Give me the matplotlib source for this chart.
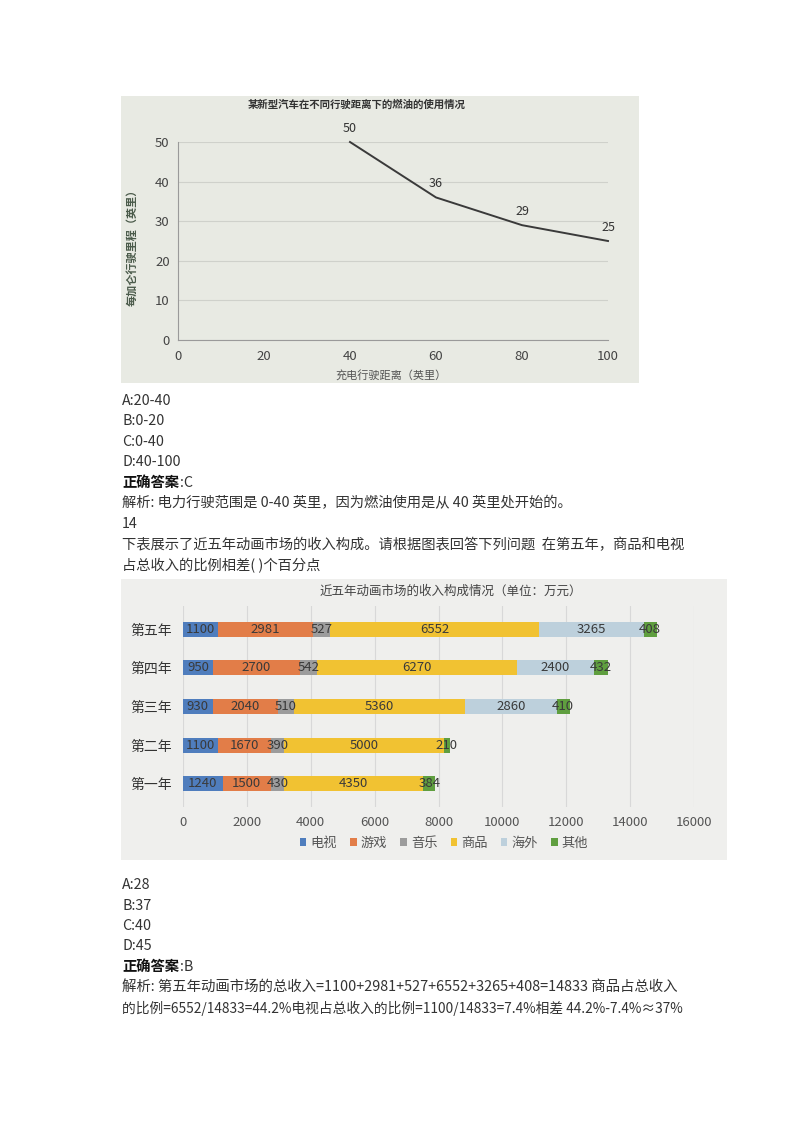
import matplotlib
matplotlib.use('Agg')
import matplotlib.pyplot as plt
from matplotlib.patches import Rectangle

plt.rcParams['font.family'] = ['Noto Sans CJK SC', 'DejaVu Sans']

W, H = 800, 1132

# 图一：燃油使用情况
dist = [40, 60, 80, 100]
mpg = [50, 36, 29, 25]

# 图二：收入构成（万元）
years = ['第一年', '第二年', '第三年', '第四年', '第五年']
series_names = ['电视', '游戏', '音乐', '商品', '海外', '其他']
tv = [1240, 1100, 930, 950, 1100]
game = [1500, 1670, 2040, 2700, 2981]
music = [430, 390, 510, 542, 527]
goods = [4350, 5000, 5360, 6270, 6552]
overseas = [0, 0, 2860, 2400, 3265]
other = [384, 210, 410, 432, 408]
colors = ['#4f7dbd', '#e27d48', '#9c9c9c', '#f1c232', '#bdd0dc', '#5f9e3f']

text_color = '#333333'


def fx(px):
    return px / W


def fy(py):
    return 1 - py / H


def box(x0, y0, x1, y1):
    return [x0 / W, 1 - y1 / H, (x1 - x0) / W, (y1 - y0) / H]


fig = plt.figure(figsize=(8, 11.32), dpi=100)
fig.patch.set_facecolor('white')

# ---- 图一背景
fig.add_artist(Rectangle((fx(121), fy(383)), (639 - 121) / W, (383 - 96) / H,
                         transform=fig.transFigure, facecolor='#e8eae3',
                         edgecolor='none', zorder=-5))

ax1 = fig.add_axes(box(178, 142, 608, 340))
ax1.set_facecolor('none')
ax1.plot(dist, mpg, color='#3a3a3a', lw=1.4, clip_on=False)
for x, y in zip(dist, mpg):
    ax1.annotate(str(y), (x, y), xytext=(0, 10), textcoords='offset points',
                 ha='center', va='center', fontsize=9, color='#333333')
ax1.set_xlim(0, 100)
ax1.set_ylim(0, 50)
ax1.set_xticks(range(0, 101, 20))
ax1.set_yticks(range(0, 51, 10))
ax1.yaxis.grid(True, color='#cfd1cb', lw=0.8)
ax1.set_axisbelow(True)
ax1.tick_params(length=0, labelsize=9.5, colors='#444444')
ax1.tick_params(axis='x', pad=7)
ax1.tick_params(axis='y', pad=6)
for s in ['top', 'right']:
    ax1.spines[s].set_visible(False)
for s in ['left', 'bottom']:
    ax1.spines[s].set_color('#9a9a9a')

fig.text(fx(357), fy(105), '某新型汽车在不同行驶距离下的燃油的使用情况', ha='center', va='center',
         fontsize=7.5, weight='bold', color='#333333')
fig.text(fx(391), fy(375), '充电行驶距离（英里）', ha='center', va='center',
         fontsize=8, color='#555555')
fig.text(fx(132), fy(245), '每加仑行驶里程（英里）', ha='center', va='center',
         rotation=90, fontsize=8, weight='bold', color='#4a5a4a')

# ---- 文字
lines1 = [
    (401, 'A:20-40'),
    (421, 'B:0-20'),
    (442, 'C:0-40'),
    (462, 'D:40-100'),
    (503, '解析: 电力行驶范围是 0-40 英里，因为燃油使用是从 40 英里处开始的。'),
    (524, '14'),
    (545, '下表展示了近五年动画市场的收入构成。请根据图表回答下列问题  在第五年，商品和电视'),
    (566, '占总收入的比例相差( )个百分点'),
]
for y, t in lines1:
    fig.text(fx(122), fy(y), t, ha='left', va='center', fontsize=10.3, color=text_color)
fig.text(fx(122), fy(483), '正确答案', ha='left', va='center', fontsize=10.3,
         weight='bold', color='#111111')
fig.text(fx(180), fy(483), ':C', ha='left', va='center', fontsize=10.3, color=text_color)

# ---- 图二背景
fig.add_artist(Rectangle((fx(121), fy(860)), (727 - 121) / W, (860 - 579) / H,
                         transform=fig.transFigure, facecolor='#efefed',
                         edgecolor='none', zorder=-5))

ax2 = fig.add_axes(box(183, 606, 694, 807))
ax2.set_facecolor('none')
ypos = list(range(len(years)))
left = [0] * len(years)
handles = []
for name, vals, c in zip(series_names, [tv, game, music, goods, overseas, other], colors):
    bars = ax2.barh(ypos, vals, left=left, height=0.39, color=c, label=name)
    ax2.bar_label(bars, labels=[str(v) if v else '' for v in vals],
                  label_type='center', fontsize=9.5, color='#3a3a3a')
    handles.append(bars)
    left = [a + b for a, b in zip(left, vals)]
ax2.set_xlim(0, 16000)
ax2.set_ylim(-0.6, 4.6)
ax2.set_xticks(range(0, 16001, 2000))
ax2.set_yticks(ypos)
ax2.set_yticklabels(years)
ax2.xaxis.grid(True, color='#d8d8d8', lw=0.8)
ax2.set_axisbelow(True)
ax2.tick_params(length=0, labelsize=9.5, colors='#555555')
ax2.tick_params(axis='y', labelsize=10, colors='#333333', pad=8)
ax2.tick_params(axis='x', pad=6.5)
for s in ax2.spines.values():
    s.set_visible(False)

fig.text(fx(451), fy(591), '近五年动画市场的收入构成情况（单位：万元）', ha='center', va='center',
         fontsize=9, color='#444444')
leg = fig.legend(handles, series_names, loc='center', bbox_to_anchor=(fx(444), fy(843)),
                 ncol=6, frameon=False, fontsize=9.5, handlelength=0.5, handleheight=0.5,
                 columnspacing=1.0, handletextpad=0.3)
for t in leg.get_texts():
    t.set_color('#555555')

# ---- 文字
lines2 = [
    (885, 'A:28', 10.3),
    (906, 'B:37', 10.3),
    (926, 'C:40', 10.3),
    (946, 'D:45', 10.3),
    (987, '解析: 第五年动画市场的总收入=1100+2981+527+6552+3265+408=14833 商品占总收入', 10.4),
    (1008, '的比例=6552/14833=44.2%电视占总收入的比例=1100/14833=7.4%相差 44.2%-7.4%≈37%', 9.9),
]
for y, t, fs in lines2:
    fig.text(fx(122), fy(y), t, ha='left', va='center', fontsize=fs, color=text_color)
fig.text(fx(122), fy(967), '正确答案', ha='left', va='center', fontsize=10.3,
         weight='bold', color='#111111')
fig.text(fx(180), fy(967), ':B', ha='left', va='center', fontsize=10.3, color=text_color)

fig.savefig('out.png', dpi=100, facecolor='white')
